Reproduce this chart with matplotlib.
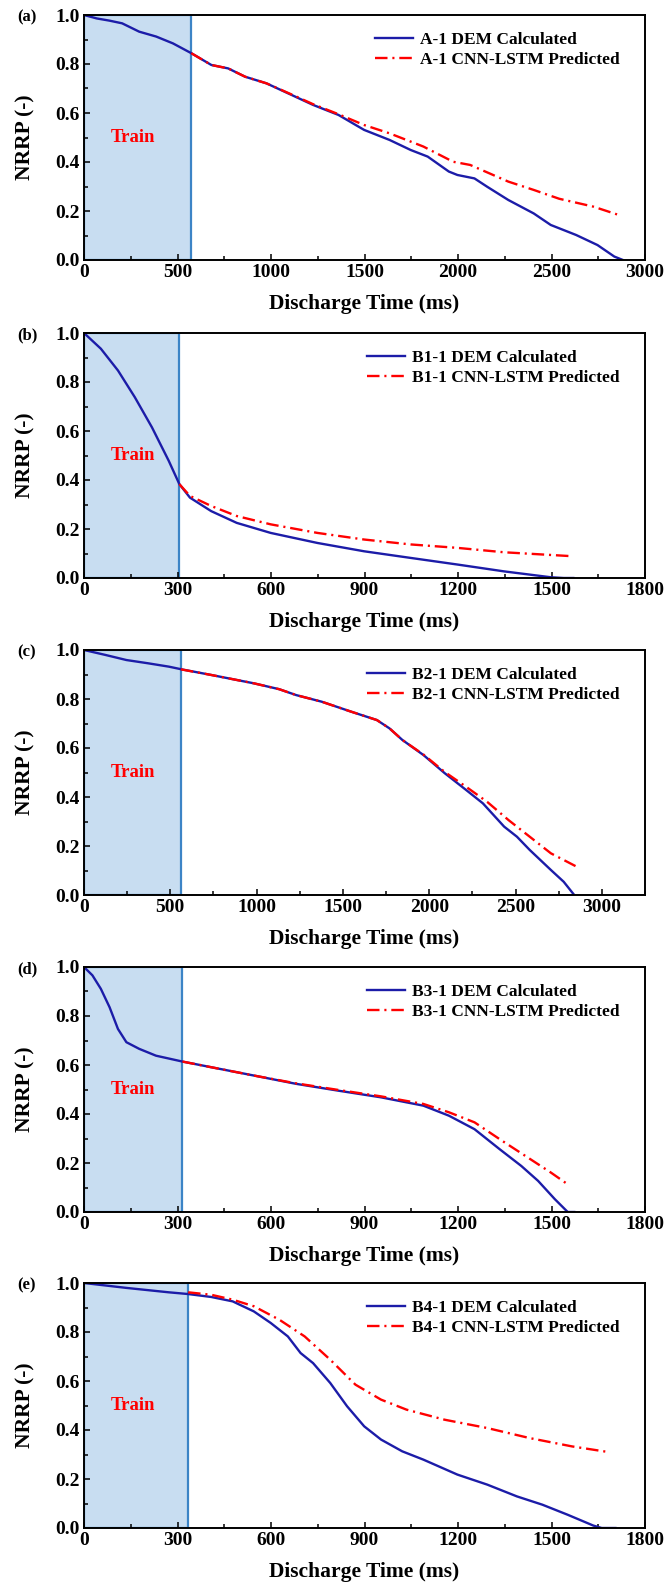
import matplotlib
matplotlib.use("Agg")
import matplotlib.pyplot as plt
from matplotlib.ticker import AutoMinorLocator, FormatStrFormatter

plt.rcParams['font.family'] = ['Liberation Serif', 'DejaVu Serif']
plt.rcParams['font.weight'] = 'bold'
plt.rcParams['axes.labelweight'] = 'bold'
plt.rcParams['lines.scale_dashes'] = False

# ---- data ----
panel_tags = ['(a)', '(b)', '(c)', '(d)', '(e)']
case_names = ['A-1', 'B1-1', 'B2-1', 'B3-1', 'B4-1']
train_end = [574, 306, 561, 316, 334]
x_limits = [3000, 1800, 3250, 1800, 1800]
x_steps = [500, 300, 500, 300, 300]

a_dem_t = [0, 68, 136, 204, 295, 386, 476, 574, 681, 771, 862, 976, 1112, 1225, 1361, 1498,
           1634, 1747, 1838, 1951, 1997, 2088, 2156, 2269, 2405, 2496, 2632, 2746, 2836, 2882]
a_dem_v = [1.0, 0.986, 0.977, 0.966, 0.932, 0.912, 0.884, 0.844, 0.796, 0.782, 0.748, 0.721,
           0.673, 0.633, 0.592, 0.531, 0.490, 0.449, 0.422, 0.361, 0.347, 0.333, 0.299, 0.245,
           0.190, 0.143, 0.102, 0.061, 0.014, 0.0]
a_pred_t = [574, 681, 771, 862, 976, 1112, 1225, 1361, 1498, 1634, 1815, 1974, 2065, 2269,
            2405, 2541, 2723, 2859]
a_pred_v = [0.844, 0.796, 0.782, 0.748, 0.721, 0.675, 0.636, 0.595, 0.551, 0.517, 0.463,
            0.401, 0.388, 0.320, 0.286, 0.250, 0.218, 0.184]

b1_dem_t = [0, 54, 109, 163, 218, 272, 306, 340, 408, 490, 599, 749, 899, 1048, 1198, 1348,
            1498, 1539, 1570]
b1_dem_v = [1.0, 0.936, 0.847, 0.738, 0.615, 0.478, 0.383, 0.328, 0.273, 0.225, 0.184, 0.143,
            0.109, 0.082, 0.055, 0.027, 0.003, 0.0, 0.0]
b1_pred_t = [306, 340, 408, 490, 599, 749, 899, 1048, 1198, 1348, 1566]
b1_pred_v = [0.383, 0.335, 0.294, 0.253, 0.219, 0.184, 0.157, 0.137, 0.123, 0.105, 0.089]

b2_dem_t = [0, 123, 246, 369, 492, 566, 738, 984, 1131, 1229, 1377, 1549, 1697, 1770, 1844,
            1967, 2090, 2213, 2311, 2434, 2508, 2582, 2705, 2779, 2840]
b2_dem_v = [1.0, 0.980, 0.959, 0.946, 0.932, 0.921, 0.898, 0.864, 0.840, 0.816, 0.789, 0.748,
            0.714, 0.680, 0.633, 0.571, 0.497, 0.429, 0.374, 0.279, 0.238, 0.184, 0.102,
            0.054, 0.0]
b2_pred_t = [561, 738, 984, 1131, 1229, 1377, 1549, 1697, 1770, 1844, 1967, 2090, 2213, 2336,
             2459, 2582, 2705, 2853]
b2_pred_v = [0.921, 0.898, 0.864, 0.840, 0.816, 0.789, 0.748, 0.714, 0.680, 0.633, 0.573,
             0.502, 0.442, 0.380, 0.306, 0.238, 0.170, 0.116]

b3_dem_t = [0, 27, 54, 82, 109, 136, 177, 231, 316, 408, 545, 681, 817, 953, 1089, 1171, 1253,
            1334, 1403, 1457, 1511, 1552, 1573]
b3_dem_v = [1.0, 0.966, 0.911, 0.836, 0.747, 0.693, 0.666, 0.638, 0.614, 0.591, 0.557, 0.523,
            0.495, 0.468, 0.434, 0.393, 0.338, 0.256, 0.188, 0.127, 0.052, 0.0, 0.0]
b3_pred_t = [316, 408, 545, 681, 817, 953, 1089, 1171, 1253, 1334, 1416, 1498, 1552]
b3_pred_v = [0.614, 0.591, 0.557, 0.525, 0.498, 0.472, 0.441, 0.407, 0.366, 0.297, 0.229,
             0.161, 0.113]

b4_dem_t = [0, 136, 272, 334, 408, 477, 545, 599, 654, 695, 735, 790, 844, 899, 953, 1021,
            1089, 1198, 1294, 1389, 1471, 1552, 1634, 1661, 1705]
b4_dem_v = [1.0, 0.980, 0.962, 0.955, 0.943, 0.925, 0.884, 0.837, 0.782, 0.714, 0.673, 0.592,
            0.497, 0.415, 0.361, 0.313, 0.279, 0.218, 0.177, 0.129, 0.095, 0.054, 0.010,
            0.0, 0.0]
b4_pred_t = [334, 408, 477, 545, 627, 708, 790, 871, 953, 1035, 1157, 1294, 1430, 1566, 1688]
b4_pred_v = [0.962, 0.952, 0.932, 0.905, 0.850, 0.782, 0.687, 0.585, 0.524, 0.483, 0.442,
             0.408, 0.367, 0.333, 0.309]

dem_t = [a_dem_t, b1_dem_t, b2_dem_t, b3_dem_t, b4_dem_t]
dem_v = [a_dem_v, b1_dem_v, b2_dem_v, b3_dem_v, b4_dem_v]
pred_t = [a_pred_t, b1_pred_t, b2_pred_t, b3_pred_t, b4_pred_t]
pred_v = [a_pred_v, b1_pred_v, b2_pred_v, b3_pred_v, b4_pred_v]

# ---- layout (pixels of the 665x1585 figure) ----
W, H = 665, 1585
tops = [15, 333, 650, 967, 1283]
ax_h = 245
left, right = 84, 645

fig = plt.figure(figsize=(W / 100, H / 100), dpi=100)

for i in range(5):
    ax = fig.add_axes([left / W, 1 - (tops[i] + ax_h) / H, (right - left) / W, ax_h / H])
    ax.axvspan(0, train_end[i], ymin=0, ymax=1, facecolor='#c8ddf1',
               edgecolor='#3c84c6', linewidth=1.6, zorder=1)
    ax.plot(dem_t[i], dem_v[i], color='#1c1ca8', lw=1.7, zorder=3,
            label=case_names[i] + ' DEM Calculated')
    ax.plot(pred_t[i], pred_v[i], color='#ff0000', lw=1.7, zorder=4,
            linestyle=(0, (9, 3.5, 1.5, 3.5)),
            label=case_names[i] + ' CNN-LSTM Predicted')

    ax.set_xlim(0, x_limits[i])
    ax.set_ylim(0, 1.0)
    ax.set_xticks(range(0, x_limits[i] + 1, x_steps[i]))
    ax.set_yticks([0.0, 0.2, 0.4, 0.6, 0.8, 1.0])
    ax.yaxis.set_major_formatter(FormatStrFormatter('%.1f'))
    ax.xaxis.set_minor_locator(AutoMinorLocator(2))
    ax.yaxis.set_minor_locator(AutoMinorLocator(2))
    ax.tick_params(which='both', direction='in', top=False, right=False,
                   labelsize=14, pad=3, width=1.1)
    ax.tick_params(which='major', length=4)
    ax.tick_params(which='minor', length=3)
    for s in ax.spines.values():
        s.set_linewidth(1.4)
        s.set_zorder(5)

    ax.set_xlabel('Discharge Time (ms)', fontsize=15.5, labelpad=9)
    ax.set_ylabel('NRRP (-)', fontsize=15.5)
    ax.yaxis.set_label_coords(-0.087, 0.5)

    ax.text(0.087, 0.5, 'Train', transform=ax.transAxes, color='#ff0000',
            fontsize=13.5, fontweight='bold', ha='center', va='center', zorder=6)

    ax.legend(loc='upper right', bbox_to_anchor=(0.955, 0.93), frameon=False,
              fontsize=12.5, handlelength=2.2, handletextpad=0.4, labelspacing=0.22,
              borderpad=0, borderaxespad=0)

    fig.text(17 / W, 1 - (tops[i] + 2) / H, panel_tags[i], fontsize=12,
             fontweight='bold', ha='left', va='center')

fig.savefig('out.png', dpi=100)
